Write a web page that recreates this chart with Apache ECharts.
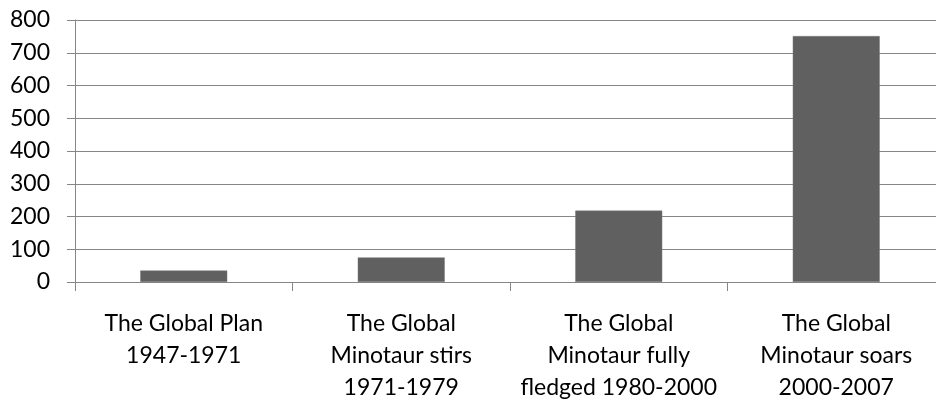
<!DOCTYPE html>
<html>
<head>
<meta charset="utf-8">
<script src="https://cdn.jsdelivr.net/npm/echarts@6/dist/echarts.min.js"></script>
<style>html,body{margin:0;padding:0;background:#fff;overflow:hidden;width:936px;height:406px;}#c{width:946px;height:406px;}</style>
</head>
<body>
<div id="c"></div>
<script>
const categories = [
  "The Global Plan\n1947-1971",
  "The Global\nMinotaur stirs\n1971-1979",
  "The Global\nMinotaur fully\nfledged 1980-2000",
  "The Global\nMinotaur soars\n2000-2007"
];
const values = [35, 75, 218, 751];
const yMin = 0, yMax = 800, yStep = 100;

const chart = echarts.init(document.getElementById('c'), null, {renderer: 'canvas'});
const font = 'Lato, "Open Sans", sans-serif';
chart.setOption({
  animation: false,
  grid: {left: 75, right: 1, top: 20, bottom: 124, containLabel: false},
  xAxis: {
    type: 'category',
    data: categories,
    boundaryGap: true,
    axisLine: {lineStyle: {color: '#868686', width: 1}},
    axisTick: {show: true, length: 9, lineStyle: {color: '#868686'}},
    axisLabel: {color: '#000', fontFamily: font, fontSize: 23, lineHeight: 32, margin: 26, interval: 0}
  },
  yAxis: {
    type: 'value',
    min: yMin, max: yMax, interval: yStep,
    axisLine: {show: true, lineStyle: {color: '#868686', width: 1}},
    axisTick: {show: true, length: 8, lineStyle: {color: '#868686'}},
    splitLine: {lineStyle: {color: '#868686', width: 1}},
    axisLabel: {color: '#000', fontFamily: font, fontSize: 23, margin: 25}
  },
  series: [{
    type: 'bar',
    data: values,
    barWidth: '40%',
    itemStyle: {color: '#606060', borderColor: '#7a7a7a', borderWidth: 0.5}
  }]
});
</script>
</body>
</html>
